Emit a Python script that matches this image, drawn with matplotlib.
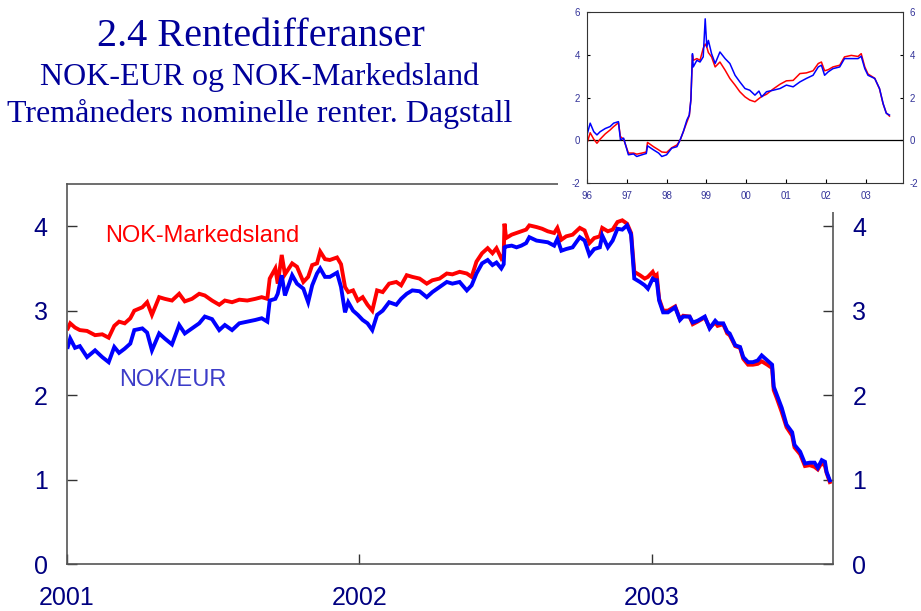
import numpy as np
import pandas as pd
import matplotlib
matplotlib.use("Agg")
from matplotlib import pyplot as plt
import matplotlib.dates as mdates
from matplotlib.patches import Rectangle

plt.rcParams["font.family"] = ["Liberation Sans", "DejaVu Sans"]
plt.rcParams["axes.unicode_minus"] = False

# main chart: daily series 2001 - 2003
dates = [
    "2001-01-02", "2001-01-05", "2001-01-11", "2001-01-17", "2001-01-26", "2001-02-05",
    "2001-02-14", "2001-02-22", "2001-03-01", "2001-03-07", "2001-03-14", "2001-03-21",
    "2001-03-26", "2001-04-05", "2001-04-11", "2001-04-17", "2001-04-26", "2001-05-03",
    "2001-05-12", "2001-05-21", "2001-05-28", "2001-06-06", "2001-06-15", "2001-06-22",
    "2001-07-01", "2001-07-10", "2001-07-17", "2001-07-26", "2001-08-04", "2001-08-14",
    "2001-08-24", "2001-09-01", "2001-09-08", "2001-09-11", "2001-09-18", "2001-09-21",
    "2001-09-26", "2001-09-30", "2001-10-09", "2001-10-15", "2001-10-23", "2001-10-29",
    "2001-11-03", "2001-11-09", "2001-11-13", "2001-11-19", "2001-11-25", "2001-12-04",
    "2001-12-09", "2001-12-14", "2001-12-18", "2001-12-24", "2001-12-30",
    "2002-01-05", "2002-01-11", "2002-01-17", "2002-01-23", "2002-01-30", "2002-02-07",
    "2002-02-16", "2002-02-22", "2002-03-01", "2002-03-08", "2002-03-17", "2002-03-26",
    "2002-04-02", "2002-04-11", "2002-04-20", "2002-04-27", "2002-05-06", "2002-05-15",
    "2002-05-21", "2002-05-27", "2002-06-03", "2002-06-10", "2002-06-16", "2002-06-21",
    "2002-06-27", "2002-06-30", "2002-07-01", "2002-07-03", "2002-07-10", "2002-07-16",
    "2002-07-22", "2002-07-28", "2002-08-01", "2002-08-10", "2002-08-17", "2002-08-24",
    "2002-09-01", "2002-09-05", "2002-09-10", "2002-09-16", "2002-09-24", "2002-10-03",
    "2002-10-09", "2002-10-15", "2002-10-21", "2002-10-28", "2002-10-31", "2002-11-07",
    "2002-11-13", "2002-11-19", "2002-11-25", "2002-12-01", "2002-12-06", "2002-12-10",
    "2002-12-17", "2002-12-23", "2002-12-27",
    "2003-01-02", "2003-01-05", "2003-01-07", "2003-01-10", "2003-01-15", "2003-01-21",
    "2003-01-30", "2003-02-05", "2003-02-09", "2003-02-17", "2003-02-21", "2003-02-27",
    "2003-03-08", "2003-03-14", "2003-03-21", "2003-03-24", "2003-03-31", "2003-04-05",
    "2003-04-08", "2003-04-15", "2003-04-21", "2003-04-25", "2003-05-01", "2003-05-07",
    "2003-05-13", "2003-05-18", "2003-05-25", "2003-05-31", "2003-06-02", "2003-06-06",
    "2003-06-12", "2003-06-18", "2003-06-25", "2003-06-28", "2003-07-05", "2003-07-11",
    "2003-07-17", "2003-07-23", "2003-07-27", "2003-08-01", "2003-08-05", "2003-08-07",
    "2003-08-11",
]

nok_markedsland = [
    2.79, 2.85, 2.80, 2.77, 2.76, 2.71, 2.72, 2.68, 2.82, 2.87, 2.85, 2.91,
    3.00, 3.04, 3.10, 2.95, 3.16, 3.14, 3.12, 3.20, 3.11, 3.14, 3.20, 3.18,
    3.12, 3.07, 3.12, 3.10, 3.13, 3.12, 3.14, 3.16, 3.14, 3.38, 3.50, 3.32,
    3.66, 3.43, 3.56, 3.52, 3.34, 3.40, 3.54, 3.56, 3.70, 3.61, 3.60, 3.63,
    3.55, 3.28, 3.22, 3.24, 3.12,
    3.16, 3.07, 3.00, 3.24, 3.22, 3.32, 3.34, 3.30, 3.42, 3.40, 3.38, 3.32,
    3.36, 3.38, 3.44, 3.43, 3.46, 3.44, 3.40, 3.58, 3.68, 3.74, 3.68, 3.74,
    3.62, 3.66, 4.03, 3.86, 3.90, 3.92, 3.94, 3.96, 4.01, 3.99, 3.97, 3.94,
    3.92, 3.98, 3.84, 3.88, 3.90, 3.98, 3.95, 3.80, 3.86, 3.88, 3.98, 3.94,
    3.96, 4.05, 4.07, 4.03, 3.92, 3.46, 3.42, 3.38, 3.40,
    3.46, 3.40, 3.42, 3.14, 3.00, 3.00, 3.05, 2.90, 2.94, 2.93, 2.84, 2.87,
    2.92, 2.80, 2.86, 2.82, 2.84, 2.73, 2.71, 2.58, 2.56, 2.43, 2.36, 2.36,
    2.37, 2.40, 2.36, 2.32, 2.06, 1.96, 1.80, 1.62, 1.52, 1.38, 1.30, 1.16,
    1.17, 1.15, 1.12, 1.20, 1.16, 1.08, 0.97,
]

nok_eur = [
    2.57, 2.67, 2.56, 2.58, 2.45, 2.53, 2.45, 2.39, 2.57, 2.50, 2.55, 2.61,
    2.77, 2.79, 2.74, 2.53, 2.73, 2.67, 2.60, 2.83, 2.73, 2.79, 2.85, 2.93,
    2.90, 2.77, 2.83, 2.77, 2.85, 2.87, 2.89, 2.91, 2.87, 3.12, 3.14, 3.20,
    3.42, 3.18, 3.42, 3.32, 3.26, 3.10, 3.30, 3.44, 3.50, 3.40, 3.40, 3.45,
    3.28, 2.98, 3.10, 3.00, 2.95,
    2.89, 2.85, 2.77, 2.95, 3.00, 3.10, 3.07, 3.14, 3.20, 3.24, 3.23, 3.16,
    3.22, 3.28, 3.34, 3.32, 3.34, 3.24, 3.30, 3.44, 3.56, 3.60, 3.54, 3.57,
    3.50, 3.55, 3.75, 3.76, 3.77, 3.75, 3.77, 3.80, 3.87, 3.83, 3.82, 3.81,
    3.77, 3.85, 3.71, 3.73, 3.75, 3.87, 3.83, 3.66, 3.73, 3.75, 3.89, 3.75,
    3.83, 3.97, 3.96, 4.01, 3.90, 3.38, 3.34, 3.30, 3.26,
    3.38, 3.36, 3.36, 3.12, 2.98, 2.98, 3.04, 2.89, 2.93, 2.93, 2.86, 2.88,
    2.93, 2.79, 2.88, 2.85, 2.85, 2.75, 2.73, 2.59, 2.57, 2.45, 2.39, 2.39,
    2.41, 2.47, 2.41, 2.36, 2.10, 2.00, 1.85, 1.65, 1.56, 1.41, 1.33, 1.19,
    1.20, 1.20, 1.14, 1.23, 1.21, 1.09, 0.99,
]

# inset chart: 1996 - 2003, x in decimal years
inset_years = [
    1996.00, 1996.08, 1996.17, 1996.25, 1996.33, 1996.46, 1996.58, 1996.67, 1996.79,
    1996.84, 1996.92, 1997.04, 1997.17, 1997.25, 1997.38, 1997.49, 1997.52, 1997.67,
    1997.80, 1997.88, 1998.00, 1998.13, 1998.26, 1998.34, 1998.42, 1998.51, 1998.57,
    1998.61, 1998.65, 1998.67, 1998.76, 1998.84, 1998.92, 1998.97, 1999.01, 1999.05,
    1999.13, 1999.22, 1999.34, 1999.47, 1999.59, 1999.72, 1999.84, 1999.97, 2000.09,
    2000.22, 2000.32, 2000.39, 2000.51, 2000.68, 2000.85, 2001.01, 2001.18, 2001.35,
    2001.51, 2001.68, 2001.81, 2001.89, 2001.97, 2002.06, 2002.18, 2002.35, 2002.47,
    2002.64, 2002.81, 2002.89, 2002.98, 2003.06, 2003.23, 2003.35, 2003.44, 2003.52,
    2003.60,
]
inset_eur = [
    0.25, 0.80, 0.40, 0.25, 0.40, 0.55, 0.64, 0.80, 0.87,
    0.02, 0.10, -0.68, -0.64, -0.76, -0.68, -0.62, -0.26, -0.45,
    -0.60, -0.76, -0.68, -0.37, -0.30, 0.02, 0.40, 0.95, 1.18,
    1.88, 4.05, 3.43, 3.74, 3.66, 3.90, 5.68, 4.36, 4.67,
    4.05, 3.59, 4.13, 3.82, 3.59, 3.04, 2.73, 2.42, 2.34,
    2.11, 2.30, 2.03, 2.27, 2.34, 2.42, 2.58, 2.50, 2.73,
    2.89, 3.04, 3.43, 3.51, 3.04, 3.20, 3.35, 3.43, 3.82,
    3.82, 3.82, 3.93, 3.35, 3.04, 2.89, 2.42, 1.72, 1.26,
    1.18,
]
inset_mkt = [
    -0.14, 0.35, 0.05, -0.14, 0.05, 0.30, 0.48, 0.64, 0.82,
    0.17, 0.05, -0.60, -0.60, -0.65, -0.60, -0.55, -0.10, -0.30,
    -0.45, -0.55, -0.57, -0.35, -0.22, 0.00, 0.40, 0.85, 1.15,
    1.90, 3.97, 3.74, 3.82, 3.74, 4.30, 4.50, 4.36, 4.10,
    3.90, 3.43, 3.66, 3.28, 2.89, 2.58, 2.27, 2.03, 1.88,
    1.80, 1.95, 2.05, 2.15, 2.40, 2.62, 2.78, 2.80, 3.12,
    3.15, 3.25, 3.59, 3.66, 3.25, 3.30, 3.43, 3.51, 3.90,
    3.97, 3.92, 4.05, 3.43, 3.10, 2.90, 2.40, 1.70, 1.28,
    1.13,
]
inset_ticks = [1996, 1997, 1998, 1999, 2000, 2001, 2002, 2003]
inset_ticklabels = ["96", "97", "98", "99", "00", "01", "02", "03"]

navy = "#000080"
title_col = "#000099"

fig = plt.figure(figsize=(9.21, 6.11), dpi=100)
fig.patch.set_facecolor("white")

# ---- main chart
ax = fig.add_axes([67/921, 1 - 564/611, (833 - 67)/921, (564 - 184)/611])
x = pd.to_datetime(dates)
ax.plot(x, nok_markedsland, color="#ff0000", lw=2.8, solid_joinstyle="miter")
ax.plot(x, nok_eur, color="#0000ff", lw=2.8, solid_joinstyle="miter")

ax.set_xlim(pd.Timestamp("2001-01-01"), pd.Timestamp("2003-08-15"))
ax.set_ylim(0, 4.5)
ax.set_yticks([0, 1, 2, 3, 4])
ax.xaxis.set_major_locator(mdates.YearLocator())
ax.xaxis.set_major_formatter(mdates.DateFormatter("%Y"))
ax.tick_params(axis="y", which="both", direction="in", length=7, width=1, color="#333333",
               labelsize=18, labelcolor=navy, left=True, right=True,
               labelleft=True, labelright=True, pad=14)
ax.tick_params(axis="x", direction="in", length=7, width=1, color="#333333",
               labelsize=18, labelcolor=navy, pad=16)
for s in ax.spines.values():
    s.set_color("#555555")
    s.set_linewidth(1.2)

ax.text(pd.Timestamp("2001-02-17"), 3.89, "NOK-Markedsland", color="#ff0000",
        fontsize=17, va="center", ha="left")
ax.text(pd.Timestamp("2001-03-07"), 2.18, "NOK/EUR", color="#3c3cc8",
        fontsize=17, va="center", ha="left")

# ---- title
fig.text(261/921, 1 - 37/611, "2.4 Rentedifferanser", color=title_col,
         fontsize=29, family="Liberation Serif", ha="center", va="center")
fig.text(260/921, 1 - 77/611, "NOK-EUR og NOK-Markedsland", color=title_col,
         fontsize=23, family="Liberation Serif", ha="center", va="center")
fig.text(260/921, 1 - 114/611, "Tremåneders nominelle renter. Dagstall", color=title_col,
         fontsize=23, family="Liberation Serif", ha="center", va="center")

# ---- white box behind the inset, hiding the main frame
fig.patches.append(Rectangle((558/921, 1 - 212/611), 363/921, 212/611,
                             transform=fig.transFigure, facecolor="white",
                             edgecolor="none", zorder=1))

# ---- inset
ins = fig.add_axes([587/921, 1 - 183/611, (903 - 587)/921, (183 - 12)/611], zorder=2)
ins.axhline(0, color="black", lw=0.9)
ins.plot(inset_years, inset_mkt, color="#ff0000", lw=1.1)
ins.plot(inset_years, inset_eur, color="#0000ff", lw=1.1)
ins.set_xlim(1996, 2003.94)
ins.set_ylim(-2, 6)
ins.set_yticks([-2, 0, 2, 4, 6])
ins.set_xticks(inset_ticks)
ins.set_xticklabels(inset_ticklabels)
ins.tick_params(axis="y", direction="in", length=2, labelsize=7, labelcolor="#333399",
                left=True, right=True, labelleft=True, labelright=True, pad=5)
ins.tick_params(axis="x", direction="in", length=3, labelsize=7, labelcolor="#333399", pad=6)
for s in ins.spines.values():
    s.set_color("#333333")
    s.set_linewidth(0.8)

fig.savefig("out.png", dpi=100, facecolor="white")
